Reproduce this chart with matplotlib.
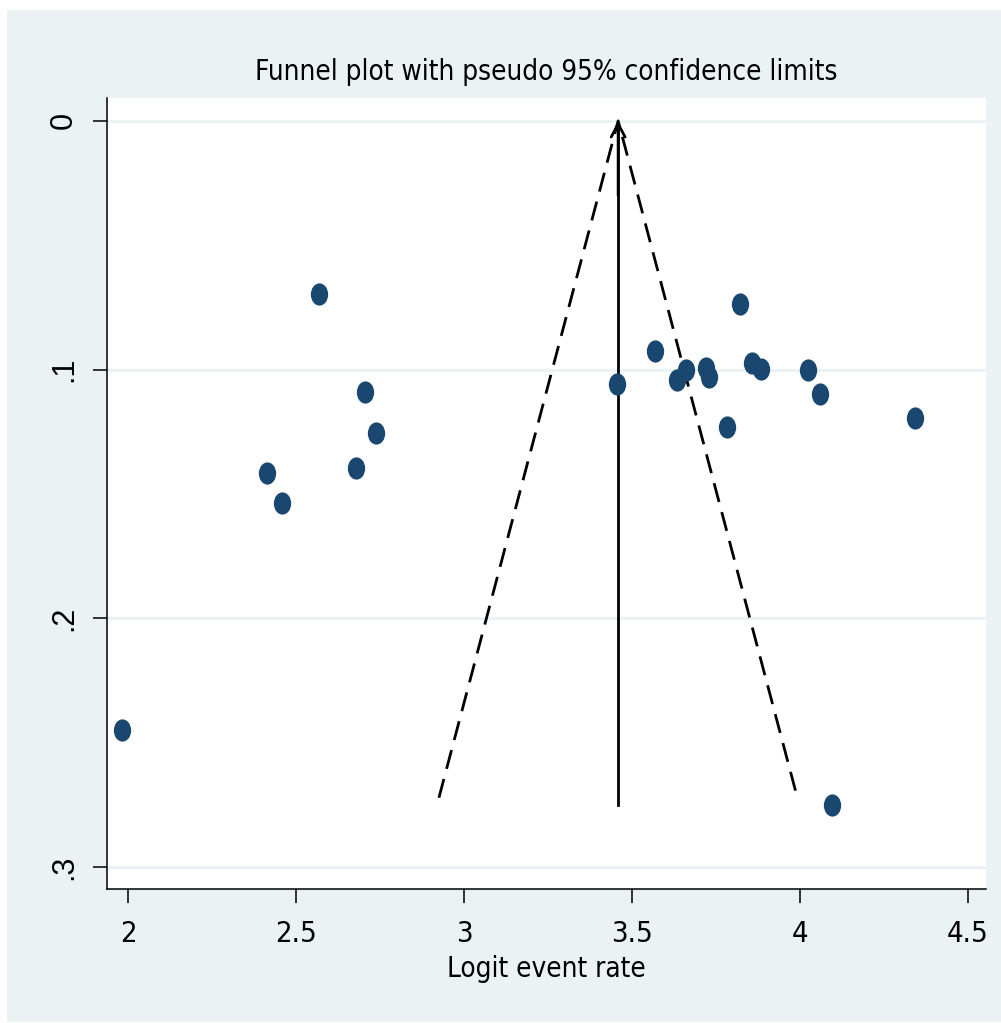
import matplotlib
matplotlib.use("Agg")
import matplotlib.pyplot as plt
from matplotlib.patches import Rectangle, FancyArrowPatch
from matplotlib.path import Path
from matplotlib.transforms import Affine2D
from matplotlib import font_manager

# ---- data ----
logit_rate = [2.568, 3.821, 3.568, 3.456, 3.634, 3.661, 3.720, 3.729, 3.856,
              3.885, 4.024, 4.060, 3.783, 4.343, 2.705, 2.738, 2.679, 2.414,
              2.458, 1.983, 4.095]
std_err = [0.0696, 0.0736, 0.0925, 0.1058, 0.1041, 0.1001, 0.0992, 0.1028,
           0.0974, 0.0999, 0.1003, 0.1097, 0.1230, 0.1195, 0.1090, 0.1255,
           0.1395, 0.1415, 0.1536, 0.2449, 0.2750]
pooled = 3.459
se_max_line = 0.275
se_max_funnel = 0.2722
z95 = 1.96

x_ticks = [2, 2.5, 3, 3.5, 4, 4.5]
x_ticklabels = ["2", "2.5", "3", "3.5", "4", "4.5"]
y_ticks = [0, 0.1, 0.2, 0.3]
y_ticklabels = ["0", ".1", ".2", ".3"]
title = "Funnel plot with pseudo 95% confidence limits"
xlabel = "Logit event rate"

# ---- style ----
plt.rcParams['lines.scale_dashes'] = False
cands = [f for f in font_manager.fontManager.ttflist
         if ("Narrow" in f.name or "Condensed" in f.name
             or (isinstance(f.stretch, str) and "condensed" in f.stretch.lower())
             or (isinstance(f.stretch, int) and f.stretch < 500))
         and f.style == "normal"]
if cands:
    narrow_prop = dict(fontfamily=cands[0].name, fontstretch=cands[0].stretch)
    scale = 1.0
else:
    narrow_prop = dict(fontfamily="Liberation Sans")
    scale = 0.9
BG = "#EAF2F3"
NAVY = "#1A476F"

W, H = 1001, 1023
fig = plt.figure(figsize=(W / 100, H / 100), dpi=100, facecolor="white")
fig.patches.append(Rectangle((7 / W, 1 / H), (W - 7) / W, 1012 / H,
                             transform=fig.transFigure, facecolor=BG,
                             edgecolor="none", zorder=-10))

left, right, top, bottom = 107, 986, 98, 889
ax = fig.add_axes([left / W, 1 - bottom / H, (right - left) / W, (bottom - top) / H])
ax.set_zorder(1)
ax.set_facecolor("white")
ax.set_xlim(1.9375, 4.554)
ax.set_ylim(0.3089, -0.0092)

for s in ["top", "right"]:
    ax.spines[s].set_visible(False)
for s in ["left", "bottom"]:
    ax.spines[s].set_linewidth(1.1)
    ax.spines[s].set_color("black")

# grid lines
for yv in y_ticks:
    ax.axhline(yv, color=BG, lw=2.0, zorder=1)

# funnel
ax.plot([pooled - z95 * se_max_funnel, pooled, pooled + z95 * se_max_funnel],
        [se_max_funnel, 0, se_max_funnel], color="black", lw=2.0,
        dashes=(14, 7.5), zorder=3, solid_capstyle="butt", dash_capstyle="butt")
ax.plot([pooled, pooled], [se_max_line, 0.002], color="black", lw=2.0, zorder=3)
arr = FancyArrowPatch((pooled, 0.03), (pooled, 0.0),
                      arrowstyle="->,head_length=0.95,head_width=0.5",
                      mutation_scale=10, color="black", lw=2.0, zorder=3,
                      shrinkA=0, shrinkB=0)
ax.add_patch(arr)

# points: vertically elongated ellipse markers
ell = Path.unit_circle().transformed(Affine2D().scale(0.78, 1.0))
ax.plot(logit_rate, std_err, linestyle="none", marker=ell, markersize=16,
        color=NAVY, markeredgewidth=0, zorder=4)

ax.set_xticks(x_ticks)
ax.set_xticklabels(x_ticklabels, fontsize=21 * scale, **narrow_prop)
ax.set_yticks(y_ticks)
ax.set_yticklabels(y_ticklabels, fontfamily="Liberation Sans", fontsize=22,
                   rotation=90, va="center")
ax.tick_params(axis="x", length=10, width=1.1, pad=12, colors="black")
ax.tick_params(axis="y", length=10, width=1.1, pad=10, colors="black")
for t in ax.get_yticklines():
    t.set_color("#333333")

fig.text(546 / W, 1 - 80 / H, title, ha="center", va="baseline",
         fontsize=20 * (0.93 if not cands else 1.0), **narrow_prop)
fig.text(546 / W, 1 - 977 / H, xlabel, ha="center", va="baseline",
         fontsize=20 * scale, **narrow_prop)

fig.savefig("out.png", dpi=100, facecolor="white")
